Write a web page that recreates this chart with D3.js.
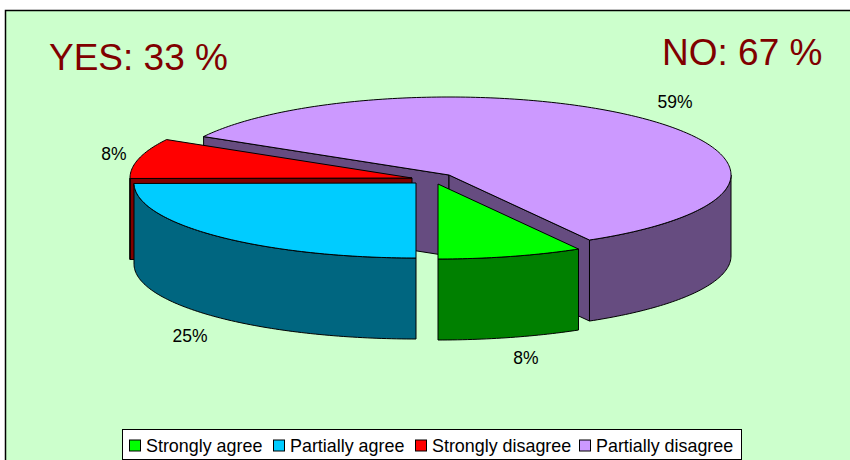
<!DOCTYPE html>
<html>
<head>
  <style>
    body { margin: 0; background: #fff; }
    svg { display: block; font-family: "Liberation Sans", Arial, sans-serif; }
  </style>
  <script src="https://d3js.org/d3.v7.min.js"></script>
</head>
<body>
<script>
  const categories = ["Strongly agree", "Partially agree", "Strongly disagree", "Partially disagree"];
  // the labels show them rounded
  const values = [8.3, 24.9, 8.3, 58.5];
  const topColors = ["#00ff00", "#00ccff", "#ff0000", "#cc99ff"];
  const sideColors = ["#008000", "#006680", "#800000", "#664c80"];
  const titles = ["YES: 33 %", "NO: 67 %"];

  const width = 850, height = 460;
  const rx = 282, depth = 81;
  const deg = Math.PI / 180;

  // where each exploded slice ends up
  const centers = [[438, 184], [416, 183], [412, 178], [449, 175]];
  const labelPos = [[526, 364], [190, 342], [114, 160], [675, 108]];

  const x = d3.scaleLinear().domain([-1, 1]).range([-rx, rx]);
  // back half of the ellipse is a bit deeper than the front, perspective
  const y = d3.scaleLinear().domain([-1, 0, 1]).range([-75, 0, 78]);

  const svg = d3.select("body").append("svg").attr("width", width).attr("height", height);

  svg.append("rect").attr("x", 5.5).attr("y", 10.5).attr("width", 860).attr("height", 470)
    .style("fill", "#ccffcc").style("stroke", "#000").style("stroke-width", 1.5);

  // green starts so that blue begins exactly at 6 o'clock
  const startAngle = 180 * deg - values[0] / d3.sum(values) * 2 * Math.PI;
  const slices = d3.pie().sort(null).startAngle(startAngle).endAngle(startAngle + 2 * Math.PI)(values);

  const line = d3.line();

  function pt(i, a, dy) {
    return [centers[i][0] + x(Math.sin(a)), centers[i][1] - y(Math.cos(a)) + (dy || 0)];
  }

  function rim(i, a0, a1, dy) {
    const n = Math.max(2, Math.ceil(Math.abs(a1 - a0) / deg));
    return d3.range(n + 1).map(k => pt(i, a0 + (a1 - a0) * k / n, dy));
  }

  function drawShape(points, fill) {
    svg.append("path").attr("d", line(points) + "Z")
      .style("fill", fill).style("stroke", "#000").style("stroke-width", 1).style("stroke-linejoin", "round");
  }

  // back to front: purple, red, green, blue
  [3, 2, 0, 1].forEach(i => {
    const s = slices[i], c = centers[i];
    const apex = [c[0], c[1]], apexLow = [c[0], c[1] + depth];
    const a0 = s.startAngle, a1 = s.endAngle;

    // cut walls, only those that face the viewer
    if (Math.sin(a0) < -1e-6) drawShape([apex, apexLow, pt(i, a0, depth), pt(i, a0)], sideColors[i]);
    if (Math.sin(a1) > 1e-6) drawShape([apex, apexLow, pt(i, a1, depth), pt(i, a1)], sideColors[i]);

    // outer wall, the part that faces the viewer (90..270 deg clockwise from top)
    const lo = Math.max(a0, 90 * deg), hi = Math.min(a1, 270 * deg);
    if (hi > lo) drawShape(rim(i, lo, hi).concat(rim(i, hi, lo, depth)), sideColors[i]);
    const lo2 = Math.max(a0, 450 * deg), hi2 = Math.min(a1, 630 * deg);
    if (hi2 > lo2) drawShape(rim(i, lo2, hi2).concat(rim(i, hi2, lo2, depth)), sideColors[i]);

    // top face
    drawShape([apex].concat(rim(i, a0, a1)), topColors[i]);
  });

  svg.selectAll(".pct").data(values).join("text").attr("class", "pct")
    .attr("x", (d, i) => labelPos[i][0]).attr("y", (d, i) => labelPos[i][1])
    .attr("text-anchor", "middle").style("font-size", "17.5px").style("fill", "#000")
    .text(d => Math.round(d) + "%");

  svg.selectAll(".big").data(titles).join("text").attr("class", "big")
    .attr("x", (d, i) => [49, 662][i]).attr("y", (d, i) => [70, 65][i])
    .style("font-size", "37px").style("fill", "#800000").text(d => d);

  // legend
  const legendX = [129.5, 273.5, 415.5, 579.5], legendY = 445.5;
  svg.append("rect").attr("x", 122.5).attr("y", 429.5).attr("width", 619).attr("height", 30)
    .style("fill", "#fff").style("stroke", "#000");
  categories.forEach((c, i) => {
    svg.append("rect").attr("x", legendX[i]).attr("y", legendY - 5.5).attr("width", 11).attr("height", 11)
      .style("fill", topColors[i]).style("stroke", "#000");
    svg.append("text").attr("x", legendX[i] + 16.5).attr("y", legendY + 6.5)
      .style("font-size", "17.9px").style("fill", "#000").text(c);
  });
</script>
</body>
</html>
